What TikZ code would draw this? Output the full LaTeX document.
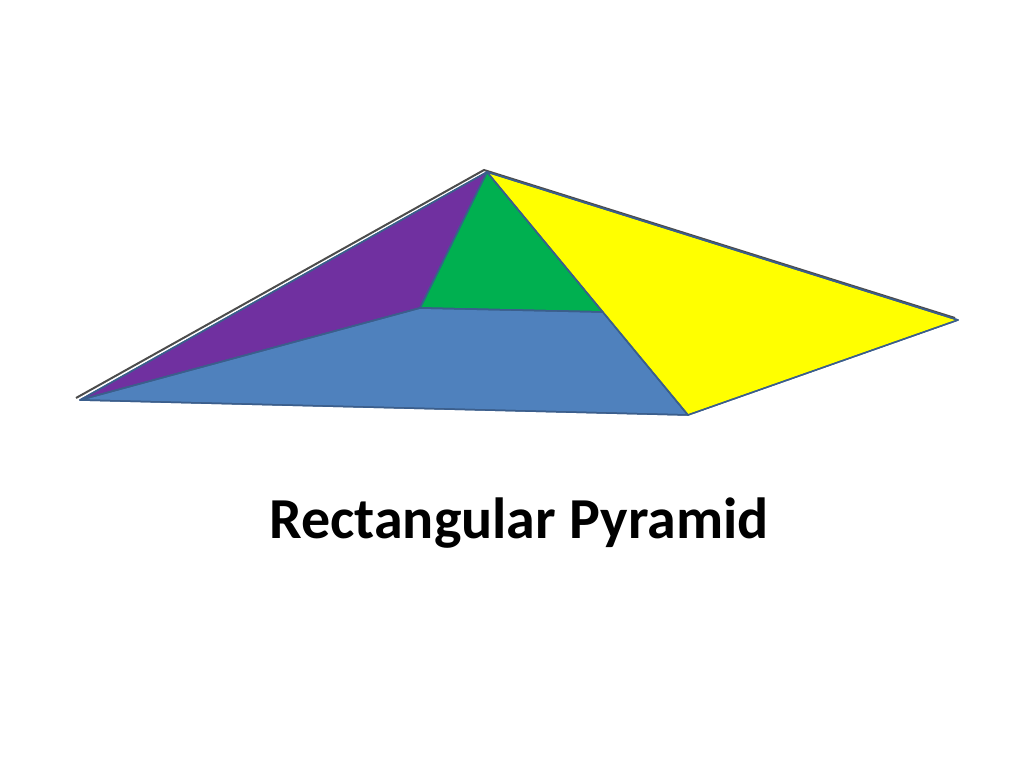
\documentclass[tikz,border=0pt]{standalone}
\usepackage{fontspec}
\setmainfont{Carlito}
\begin{document}
\begin{tikzpicture}[x=1pt,y=-1pt,
  face/.style={draw=edgeblue,line width=1.5pt,line join=round}]
\definecolor{edgeblue}{HTML}{3B5E8C}
\definecolor{cpurple}{HTML}{7030A0}
\definecolor{cgreen}{HTML}{00B050}
\definecolor{cblue}{HTML}{4F81BD}
\definecolor{cyellow}{HTML}{FFFF00}
\useasboundingbox (0,0) rectangle (1024,768);
\coordinate (A) at (487,172);
\coordinate (L) at (80,400);
\coordinate (F) at (688,415);
\coordinate (R) at (958,320);
\coordinate (P) at (420,308);
\coordinate (Q) at (603,312);
\draw[black!70,line width=2pt] (76,398) -- (484,170) -- (955,318);
\fill[face,fill=cpurple] (A) -- (L) -- (P) -- cycle;
\fill[face,fill=cgreen] (A) -- (P) -- (Q) -- cycle;
\fill[face,fill=cblue] (L) -- (P) -- (Q) -- (F) -- cycle;
\fill[face,fill=cyellow] (A) -- (F) -- (R) -- cycle;
\draw[face] (A) -- (L) -- (F) -- (R) -- cycle;
\draw[face] (L) -- (P) -- (Q);
\draw[face] (A) -- (P);
\draw[face] (A) -- (F);
\node[font=\fontsize{58}{70}\selectfont\bfseries] (title) at (519,523) {Rectangular Pyramid};
\end{tikzpicture}
\end{document}
